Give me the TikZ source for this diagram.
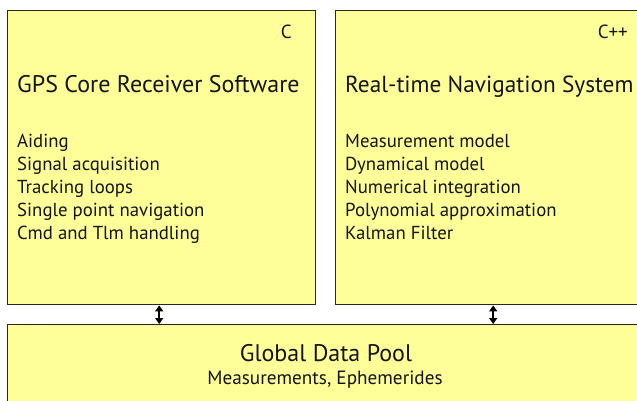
\documentclass[tikz,border=0pt]{standalone}
\usepackage{fontspec}
\setmainfont{PT Sans}
\usetikzlibrary{arrows.meta}
\definecolor{boxfill}{RGB}{255,255,153}
\definecolor{boxline}{RGB}{40,40,30}
\definecolor{ink}{RGB}{20,20,20}
\begin{document}
\begin{tikzpicture}[x=1pt,y=-1pt,
  block/.style={draw=boxline,line width=1.4pt,fill=boxfill,rectangle,inner sep=0pt},
  lang/.style={anchor=base east,text=ink,inner sep=0pt,font=\fontsize{19}{19}\selectfont},
  heading/.style={anchor=base west,text=ink,inner sep=0pt,font=\fontsize{24}{24}\selectfont},
  items/.style={anchor=base west,text=ink,inner sep=0pt,align=left,font=\fontsize{18.8}{23}\selectfont},
  link/.style={line width=1.6pt,{Triangle[length=6pt,width=8pt]}-{Triangle[length=6pt,width=8pt]}}]
  \useasboundingbox (0,0) rectangle (637,401);
  \begin{scope}
  \clip (0,0) rectangle (637,401);
  % the two software components and the shared data pool
  \node[block,minimum width=308pt,minimum height=294pt,anchor=north west] (gps) at (7,10) {};
  \node[block,minimum width=315pt,minimum height=294pt,anchor=north west] (nav) at (335,10) {};
  \node[block,minimum width=643pt,minimum height=100pt,anchor=north west] (pool) at (7,324) {};

  % implementation languages
  \node[lang] (gpslang) at (292,39) {C};
  \node[lang] (navlang) at (628,39) {C++};

  % component titles
  \node[heading] (gpstitle) at (17,93) {GPS Core Receiver Software};
  \node[heading,font=\fontsize{23.3}{24}\selectfont] (navtitle) at (345,93) {Real-time Navigation System};

  % component functions (anchored on the baseline of the last line)
  \node[items] (gpslist) at (17,239) {Aiding\\Signal acquisition\\Tracking loops\\Single point navigation\\Cmd and Tlm handling};
  \node[items] (navlist) at (345,239) {Measurement model\\Dynamical model\\Numerical integration\\Polynomial approximation\\Kalman Filter};

  % data pool contents
  \node[anchor=base,text=ink,inner sep=0pt,font=\fontsize{24}{24}\selectfont] (pooltitle) at (326,361) {Global Data Pool};
  \node[anchor=base,text=ink,inner sep=0pt,font=\fontsize{19.2}{19}\selectfont] (poolsub) at (325,384) {Measurements, Ephemerides};
  \end{scope}

  % data exchange with the pool
  \draw[link] ([xshift=-2.5pt]gps.south) -- ([xshift=-2.5pt]gps.south |- pool.north);
  \draw[link] (nav.south) -- (nav.south |- pool.north);
\end{tikzpicture}
\end{document}
